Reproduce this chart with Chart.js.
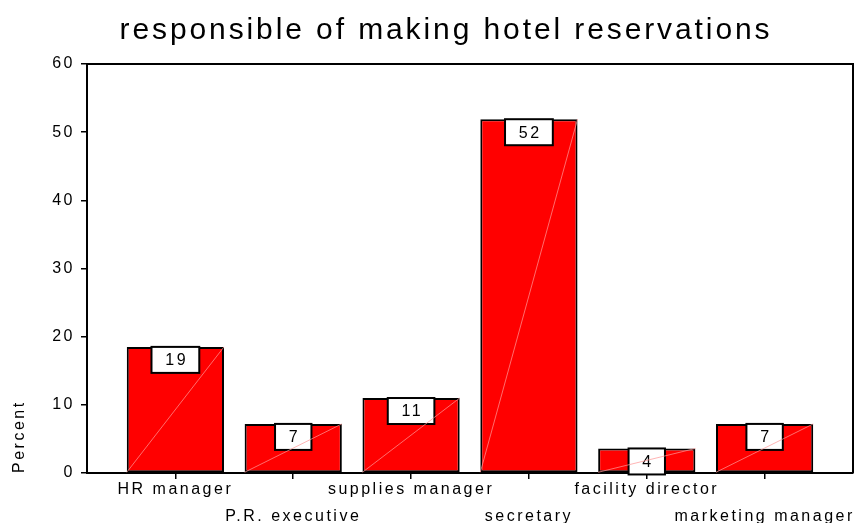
<!DOCTYPE html>
<html>
<head>
<meta charset="utf-8">
<script src="https://cdn.jsdelivr.net/npm/chart.js@4.4.1/dist/chart.umd.min.js"></script>
<style>
  html, body { margin: 0; padding: 0; background: #fff; }
</style>
</head>
<body>
<canvas id="chart" width="860" height="523"></canvas>
<script>
const titleText = "responsible of making hotel reservations";
const categories = ["HR manager", "P.R. executive", "supplies manager", "secretary", "facility director", "marketing manager"];
const percents = [18.5, 7.2, 11.0, 51.9, 3.6, 7.2];
const yTicks = [0, 10, 20, 30, 40, 50, 60];

const FONT = "'Liberation Sans', Arial, sans-serif";
const TRACK = "2.5px";

// wide tracking on all the canvas text
const spacing = {
  id: "spacing",
  beforeLayout(chart) { chart.ctx.letterSpacing = TRACK; },
  beforeDraw(chart) { chart.ctx.letterSpacing = TRACK; }
};

// top and right sides of the plot frame
const frame = {
  id: "frame",
  afterDraw(chart) {
    const { ctx, chartArea: a } = chart;
    ctx.save();
    ctx.strokeStyle = "#000";
    ctx.lineWidth = 2;
    ctx.beginPath();
    ctx.moveTo(a.left, a.top);
    ctx.lineTo(a.right, a.top);
    ctx.lineTo(a.right, a.bottom);
    ctx.stroke();
    ctx.restore();
  }
};

// white value boxes hanging from each bar top, then the thin diagonal
const valueBoxes = {
  id: "valueBoxes",
  afterDatasetsDraw(chart) {
    const ctx = chart.ctx;
    const meta = chart.getDatasetMeta(0);
    ctx.save();
    ctx.font = "16px " + FONT;
    ctx.letterSpacing = TRACK;
    meta.data.forEach((bar, i) => {
      const text = String(Math.round(percents[i]));
      const w = ctx.measureText(text).width + 25;
      const h = 26;
      const x = bar.x - w / 2;
      const y = bar.y;
      ctx.fillStyle = "#fff";
      ctx.fillRect(x, y, w, h);
      ctx.strokeStyle = "#000";
      ctx.lineWidth = 2;
      ctx.strokeRect(x, y, w, h);
      ctx.fillStyle = "#000";
      ctx.textAlign = "center";
      ctx.textBaseline = "middle";
      ctx.fillText(text, bar.x + 1.25, y + h / 2 + 1);
    });
    ctx.strokeStyle = "rgba(255,150,150,0.9)";
    ctx.lineWidth = 0.8;
    meta.data.forEach(bar => {
      ctx.beginPath();
      ctx.moveTo(bar.x - bar.width / 2, bar.base);
      ctx.lineTo(bar.x + bar.width / 2, bar.y);
      ctx.stroke();
    });
    ctx.restore();
  }
};

const heading = {
  id: "heading",
  afterDraw(chart) {
    const ctx = chart.ctx;
    ctx.save();
    ctx.font = "30px " + FONT;
    ctx.letterSpacing = "2.9px";
    ctx.fillStyle = "#000";
    ctx.textAlign = "center";
    ctx.textBaseline = "alphabetic";
    ctx.fillText(titleText, 446, 39);
    ctx.restore();
  }
};

new Chart(document.getElementById("chart"), {
  type: "bar",
  data: {
    datasets: [{
      data: percents.map((v, i) => ({ x: i, y: v })),
      backgroundColor: "#ff0000",
      borderColor: "#000",
      borderWidth: 2,
      borderSkipped: false,
      categoryPercentage: 1,
      barPercentage: 0.825
    }]
  },
  options: {
    responsive: false,
    animation: false,
    layout: { padding: { top: 64, right: 7, left: 0, bottom: 0 } },
    plugins: {
      legend: { display: false },
      tooltip: { enabled: false }
    },
    scales: {
      x: {
        type: "linear",
        offset: false,
        min: -0.75,
        max: 5.75,
        afterBuildTicks: s => { s.ticks = categories.map((_, i) => ({ value: i })); },
        afterFit: s => { s.height = 50; },
        grid: { offset: false, drawOnChartArea: false, tickLength: 6, color: "#000", lineWidth: 1.5 },
        border: { color: "#000", width: 2 },
        ticks: {
          autoSkip: false,
          maxRotation: 0,
          minRotation: 0,
          color: "#000",
          padding: -3,
          font: { family: FONT, size: 16, lineHeight: 1.7 },
          callback: v => (v % 2 ? ["", categories[v]] : categories[v])
        }
      },
      y: {
        min: 0,
        max: 60,
        afterBuildTicks: s => { s.ticks = yTicks.map(v => ({ value: v })); },
        afterFit: s => { s.width = 87; },
        grid: { drawOnChartArea: false, tickLength: 6, color: "#000", lineWidth: 1.5 },
        border: { color: "#000", width: 2 },
        ticks: { color: "#000", padding: 6, font: { family: FONT, size: 16 } },
        title: {
          display: true,
          text: "Percent",
          align: "start",
          color: "#000",
          font: { family: FONT, size: 16 },
          padding: { top: 10, bottom: 0 }
        }
      }
    }
  },
  plugins: [spacing, frame, valueBoxes, heading]
});
</script>
</body>
</html>
